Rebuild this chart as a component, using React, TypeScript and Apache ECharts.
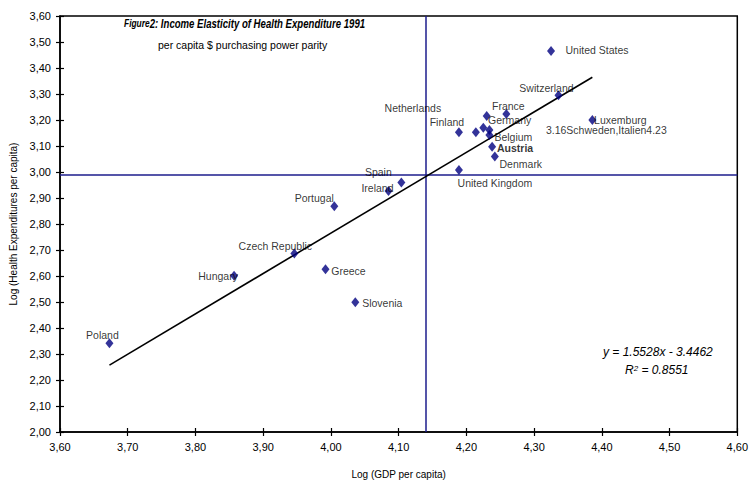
import React, { useEffect, useRef } from "react";
import * as echarts from "echarts";

// ---- data ----
const countries = [
  "United States", "Switzerland", "Luxemburg", "France", "Germany", "Netherlands",
  "Sweden", "Italy", "Belgium", "Finland", "Austria", "Denmark", "United Kingdom",
  "Spain", "Ireland", "Portugal", "Czech Republic", "Greece", "Hungary", "Slovenia", "Poland",
];
const logGdp = [
  4.325, 4.336, 4.386, 4.259, 4.23, 4.214,
  4.225, 4.234, 4.234, 4.189, 4.238, 4.242, 4.189,
  4.104, 4.085, 4.005, 3.946, 3.992, 3.857, 4.036, 3.673,
];
const logHealth = [
  3.465, 3.295, 3.2, 3.223, 3.215, 3.153,
  3.17, 3.162, 3.142, 3.153, 3.097, 3.06, 3.008,
  2.96, 2.927, 2.868, 2.687, 2.626, 2.601, 2.499, 2.341,
];
const unlabeled = ["Sweden", "Italy"];
const boldLabels = ["Austria"];

const meanLogGdp = 4.138;
const meanLogHealth = 2.992;
const slope = 1.5528;
const intercept = -3.4462;
const trendRange = [3.673, 4.386];
const equationText = "y = 1.5528x - 3.4462";
const rSquaredText = "0.8551";
const noteText = "3.16Schweden,Italien4.23";
const noteAnchor = [4.386, 3.2];

const xMin = 3.6, xMax = 4.6, yMin = 2.0, yMax = 3.6, step = 0.1;

const titleMain = "2: Income Elasticity of Health Expenditure 1991";
const titlePrefix = "Figure";
const subtitle = "per capita $ purchasing power parity";
const xName = "Log (GDP per capita)";
const yName = "Log (Health Expenditures per capita)";

// label placement (label centre relative to point, pixels)
const labelOffsets: Record<string, [number, number]> = {
  "United States": [46, -1],
  "Switzerland": [-12, -7],
  "Luxemburg": [28, 0],
  "France": [2, -8],
  "Germany": [23, 4],
  "Netherlands": [-63, -24],
  "Belgium": [24, 2],
  "Finland": [-12, -10],
  "Austria": [23, 1],
  "Denmark": [26, 8],
  "United Kingdom": [36, 13],
  "Spain": [-23, -10],
  "Ireland": [-11, -3],
  "Portugal": [-20, -8],
  "Czech Republic": [-19, -7],
  "Greece": [23, 2],
  "Hungary": [-16, 0],
  "Slovenia": [27, 1],
  "Poland": [-7, -8],
};

const FONT = "'Liberation Sans', Arial, sans-serif";
const NAVY = "#000080";
const LINE_BLUE = "#1c1c8c";
const TEXT = "#000";

const fmt = (v: number) => v.toFixed(2).replace(".", ",");

export default function App() {
  const ref = useRef<HTMLDivElement>(null);
  useEffect(() => {
    if (!ref.current) return;
    const chart = echarts.init(ref.current, undefined, { renderer: "svg" });

    const points = countries.map((c, i) => {
      const off = labelOffsets[c] || [0, 0];
      return {
        name: c,
        value: [logGdp[i], logHealth[i]],
        label: {
          show: !unlabeled.includes(c),
          formatter: "{b}",
          position: "inside",
          offset: off,
          align: "center",
          verticalAlign: "middle",
          color: TEXT,
          textBorderWidth: 0,
          fontSize: 10.5,
          fontFamily: FONT,
          fontWeight: boldLabels.includes(c) ? "bold" : "normal",
        },
      };
    });

    const baseX = {
      type: "value",
      min: xMin,
      max: xMax,
      interval: step,
      position: "bottom",
      splitLine: { show: false },
    };
    const baseY = {
      type: "value",
      min: yMin,
      max: yMax,
      interval: step,
      position: "left",
      splitLine: { show: false },
    };

    chart.setOption({
      animation: false,
      textStyle: { fontFamily: FONT },
      grid: {
        left: 60,
        right: 11,
        top: 16,
        bottom: 53,
        show: true,
        borderColor: "#000",
        borderWidth: 1.5,
        backgroundColor: "transparent",
      },
      xAxis: [
        {
          ...baseX,
          name: xName,
          nameLocation: "middle",
          nameGap: 37,
          nameTextStyle: { fontSize: 10, color: TEXT, fontFamily: FONT },
          axisLine: { show: true, lineStyle: { color: "#000", width: 1.5 } },
          axisTick: { show: true, inside: false, length: 4, lineStyle: { color: "#000", width: 1.2 } },
          axisLabel: { formatter: fmt, fontSize: 11, color: TEXT, margin: 9, fontFamily: FONT },
        },
        {
          ...baseX,
          axisLine: { show: false },
          axisTick: { show: true, inside: true, length: 4, lineStyle: { color: "#000", width: 1.2 } },
          axisLabel: { show: false },
        },
      ],
      yAxis: [
        {
          ...baseY,
          name: yName,
          nameLocation: "middle",
          nameGap: 41,
          nameRotate: 90,
          nameTextStyle: { fontSize: 10, color: TEXT, fontFamily: FONT },
          axisLine: { show: true, lineStyle: { color: "#000", width: 1.5 } },
          axisTick: { show: true, inside: false, length: 4, lineStyle: { color: "#000", width: 1.2 } },
          axisLabel: { formatter: fmt, fontSize: 11, color: TEXT, margin: 9, fontFamily: FONT },
        },
        {
          ...baseY,
          axisLine: { show: false },
          axisTick: { show: true, inside: true, length: 4, lineStyle: { color: "#000", width: 1.2 } },
          axisLabel: { show: false },
        },
      ],
      series: [
        {
          type: "scatter",
          xAxisIndex: 0,
          yAxisIndex: 0,
          symbol: "diamond",
          symbolSize: [8, 10],
          itemStyle: { color: NAVY },
          data: points,
          z: 5,
          markLine: {
            silent: true,
            symbol: "none",
            label: { show: false },
            animation: false,
            data: [
              { xAxis: meanLogGdp, lineStyle: { color: LINE_BLUE, width: 1.5, type: "solid" } },
              { yAxis: meanLogHealth, lineStyle: { color: LINE_BLUE, width: 1.5, type: "solid" } },
              [
                { coord: [trendRange[0], slope * trendRange[0] + intercept], lineStyle: { color: "#000", width: 1.6, type: "solid" } },
                { coord: [trendRange[1], slope * trendRange[1] + intercept] },
              ],
            ],
          },
        },
        {
          type: "scatter",
          xAxisIndex: 0,
          yAxisIndex: 0,
          symbolSize: 1,
          itemStyle: { color: "transparent" },
          silent: true,
          data: [
            {
              value: noteAnchor,
              label: {
                show: true,
                formatter: noteText,
                position: "inside",
                offset: [14, 10],
                align: "center",
                verticalAlign: "middle",
                fontSize: 10.5,
                color: TEXT,
                textBorderWidth: 0,
                fontFamily: FONT,
              },
            },
          ],
          z: 4,
        },
      ],
      graphic: [
        {
          type: "text",
          x: 124,
          y: 18,
          scaleX: 0.8,
          z: 10,
          style: {
            text: `{a|${titlePrefix}}{b|${titleMain}}`,
            fill: "#000",
            rich: {
              a: { fontSize: 10.5, fontStyle: "italic", fontWeight: "bold", fontFamily: FONT, fill: "#000", verticalAlign: "top" },
              b: { fontSize: 12, fontStyle: "italic", fontWeight: "bold", fontFamily: FONT, fill: "#000" },
            },
          },
        },
        {
          type: "text",
          x: 158,
          y: 39,
          z: 10,
          style: { text: subtitle, fontSize: 10.5, fontFamily: FONT, fill: TEXT },
        },
        {
          type: "text",
          left: 603,
          top: 346,
          style: { text: equationText, fontSize: 12, fontStyle: "italic", fontFamily: FONT, fill: "#000" },
        },
        {
          type: "text",
          left: 625,
          top: 364,
          style: {
            text: `{i|R}{s|2}{i| = ${rSquaredText}}`,
            fontFamily: FONT,
            fill: "#000",
            rich: {
              i: { fontSize: 12, fontStyle: "italic", fontFamily: FONT, fill: "#000" },
              s: { fontSize: 8, fontStyle: "italic", fontFamily: FONT, fill: "#000", verticalAlign: "top" },
            },
          },
        },
      ],
    });
    return () => chart.dispose();
  }, []);
  return <div ref={ref} style={{ position: "absolute", left: 0, top: 0, width: 751, height: 485 }} />;
}
